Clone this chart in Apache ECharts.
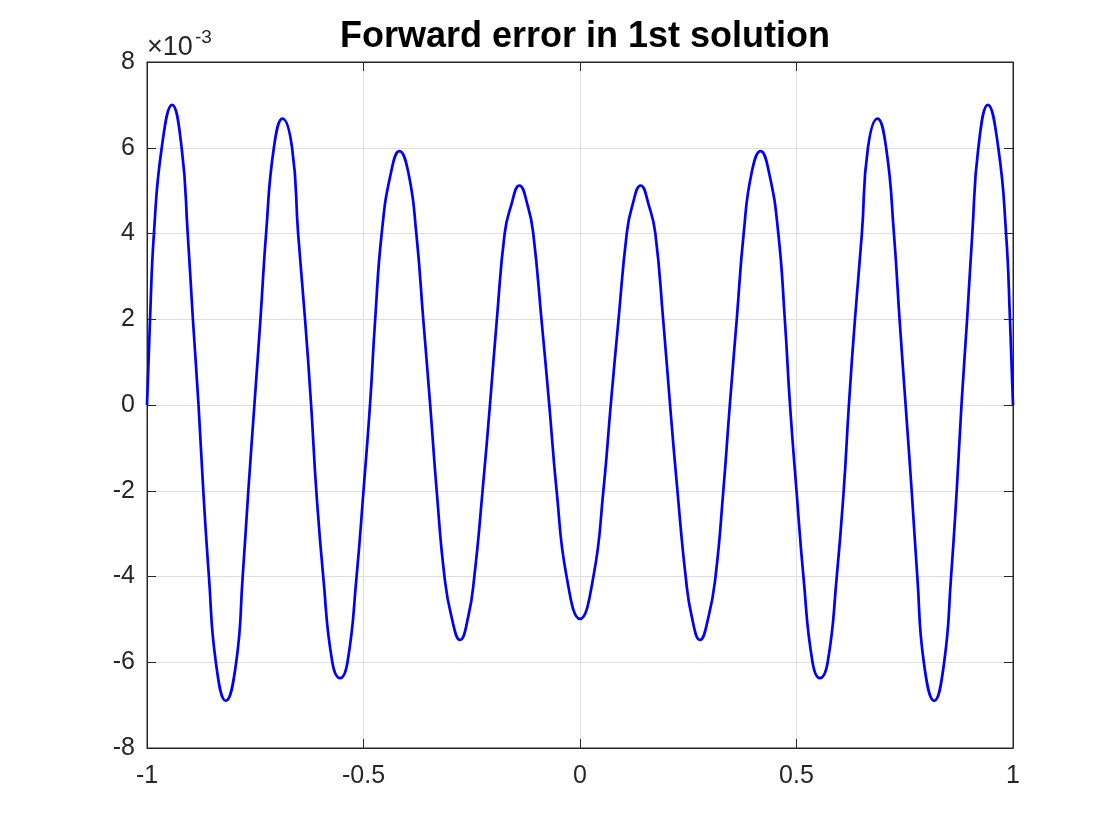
<!DOCTYPE html>
<html>
<head>
<meta charset="utf-8">
<script src="https://cdn.jsdelivr.net/npm/echarts@6/dist/echarts.min.js"></script>
<style>
  html, body { margin: 0; padding: 0; background: #fff; }
  #chart { width: 1120px; height: 840px; }
</style>
</head>
<body>
<div id="chart"></div>
<script>
// Values
const titleText = 'Forward error in 1st solution';
const xTicks = [-1, -0.5, 0, 0.5, 1];
const yTicks = [-8, -6, -4, -2, 0, 2, 4, 6, 8];   // in units of 1e-3
const exponentBase = '\u00d710';
const exponentPower = '-3';

// x positions of read points (grid-level crossings and extrema)
const xValues = [
  -1.000, -0.993, -0.984, -0.966, -0.942, -0.920, -0.906, -0.894, -0.881,
  -0.870, -0.857, -0.841, -0.818, -0.794, -0.779, -0.766, -0.752,
  -0.738, -0.725, -0.707, -0.687, -0.665, -0.651, -0.635, -0.621,
  -0.609, -0.593, -0.572, -0.554, -0.537, -0.516, -0.500, -0.485,
  -0.473, -0.458, -0.437, -0.417, -0.396, -0.378, -0.362, -0.346,
  -0.331, -0.313, -0.297, -0.277, -0.258, -0.244, -0.225, -0.208,
  -0.192, -0.174, -0.160, -0.140, -0.120, -0.108, -0.089, -0.071,
  -0.054, -0.031,  0.000,  0.031,  0.054,
   0.071,  0.089,  0.108,  0.120,  0.140,  0.160,  0.174,  0.192,
   0.208,  0.225,  0.244,  0.258,  0.277,  0.297,  0.313,  0.331,
   0.346,  0.362,  0.378,  0.396,  0.417,  0.437,  0.458,  0.473,
   0.485,  0.500,  0.516,  0.537,  0.554,  0.572,  0.593,  0.609,
   0.621,  0.635,  0.651,  0.665,  0.687,  0.707,  0.725,  0.738,
   0.752,  0.766,  0.779,  0.794,  0.818,  0.841,  0.857,  0.870,
   0.881,  0.894,  0.906,  0.920,  0.942,  0.966,  0.984,  0.993,  1.000
];

// forward error values (x 1e-3) at those positions
const errValues = [
   0.00,  2.00,  4.00,  6.00,  7.00,  6.00,  4.00,  2.00,  0.00,
  -2.00, -4.00, -6.00, -6.90, -6.00, -4.00, -2.00,  0.00,
   2.00,  4.00,  6.00,  6.68,  6.00,  4.00,  2.00,  0.00,
  -2.00, -4.00, -6.00, -6.37, -6.00, -4.00, -2.00,  0.00,
   2.00,  4.00,  5.40,  5.92,  5.40,  4.00,  2.00,  0.00,
  -2.00, -4.00, -4.93, -5.48, -4.93, -4.00, -2.00,  0.00,
   2.00,  4.00,  4.62,  5.12,  4.62,  4.00,  2.00,  0.00,
  -2.00, -4.00, -4.99, -4.00, -2.00,
   0.00,  2.00,  4.00,  4.62,  5.12,  4.62,  4.00,  2.00,
   0.00, -2.00, -4.00, -4.93, -5.48, -4.93, -4.00, -2.00,
   0.00,  2.00,  4.00,  5.40,  5.92,  5.40,  4.00,  2.00,
   0.00, -2.00, -4.00, -6.00, -6.37, -6.00, -4.00, -2.00,
   0.00,  2.00,  4.00,  6.00,  6.68,  6.00,  4.00,  2.00,
   0.00, -2.00, -4.00, -6.00, -6.90, -6.00, -4.00, -2.00,
   0.00,  2.00,  4.00,  6.00,  7.00,  6.00,  4.00,  2.00,  0.00
];

const seriesData = xValues.map((x, i) => [x, errValues[i]]);

const chart = echarts.init(document.getElementById('chart'), null, { renderer: 'canvas' });

const axisColor = '#262626';
const fontFamily = '"Liberation Sans", Arial, Helvetica, sans-serif';
const GRID = { left: 147, right: 107, top: 62, bottom: 92 };

function fmt(v) { return String(v); }

const option = {
  backgroundColor: '#ffffff',
  animation: false,
  title: {
    text: titleText,
    left: 580,
    top: 14,
    textAlign: 'center',
    textStyle: { fontFamily: fontFamily, fontSize: 36, fontWeight: 'bold', color: '#000000' }
  },
  graphic: [
    {
      type: 'text',
      left: 147,
      top: 34,
      style: { text: exponentBase, font: '27px ' + fontFamily, fill: axisColor }
    },
    {
      type: 'text',
      left: 195,
      top: 28,
      style: { text: exponentPower, font: '19px ' + fontFamily, fill: axisColor }
    }
  ],
  grid: {
    left: GRID.left, right: GRID.right, top: GRID.top, bottom: GRID.bottom,
    show: true, borderColor: axisColor, borderWidth: 1, backgroundColor: '#ffffff',
    containLabel: false
  },
  xAxis: [
    {
      type: 'value', position: 'bottom',
      min: xTicks[0], max: xTicks[xTicks.length - 1], interval: 0.5,
      axisLine: { show: true, onZero: false, lineStyle: { color: axisColor, width: 1 } },
      axisTick: { show: true, inside: true, length: 9, lineStyle: { color: axisColor } },
      axisLabel: { show: true, margin: 16, color: axisColor, fontSize: 25, fontFamily: fontFamily, formatter: fmt },
      splitLine: { show: true, lineStyle: { color: '#dedede', width: 1 } }
    },
    {
      type: 'value', position: 'top',
      min: xTicks[0], max: xTicks[xTicks.length - 1], interval: 0.5,
      axisLine: { show: true, onZero: false, lineStyle: { color: axisColor, width: 1 } },
      axisTick: { show: true, inside: true, length: 9, lineStyle: { color: axisColor } },
      axisLabel: { show: false },
      splitLine: { show: false }
    }
  ],
  yAxis: [
    {
      type: 'value', position: 'left',
      min: yTicks[0], max: yTicks[yTicks.length - 1], interval: 2,
      axisLine: { show: true, onZero: false, lineStyle: { color: axisColor, width: 1 } },
      axisTick: { show: true, inside: true, length: 9, lineStyle: { color: axisColor } },
      axisLabel: { show: true, margin: 12, color: axisColor, fontSize: 25, fontFamily: fontFamily, formatter: fmt },
      splitLine: { show: true, lineStyle: { color: '#dedede', width: 1 } }
    },
    {
      type: 'value', position: 'right',
      min: yTicks[0], max: yTicks[yTicks.length - 1], interval: 2,
      axisLine: { show: true, onZero: false, lineStyle: { color: axisColor, width: 1 } },
      axisTick: { show: true, inside: true, length: 9, lineStyle: { color: axisColor } },
      axisLabel: { show: false },
      splitLine: { show: false }
    }
  ],
  series: [
    {
      type: 'line',
      name: 'Forward error',
      xAxisIndex: 0,
      yAxisIndex: 0,
      data: seriesData,
      showSymbol: false,
      smooth: 0.5,
      lineStyle: { color: '#0000ff', width: 2.7 },
      itemStyle: { color: '#0000ff' },
      z: 5
    }
  ]
};

chart.setOption(option);
</script>
</body>
</html>
